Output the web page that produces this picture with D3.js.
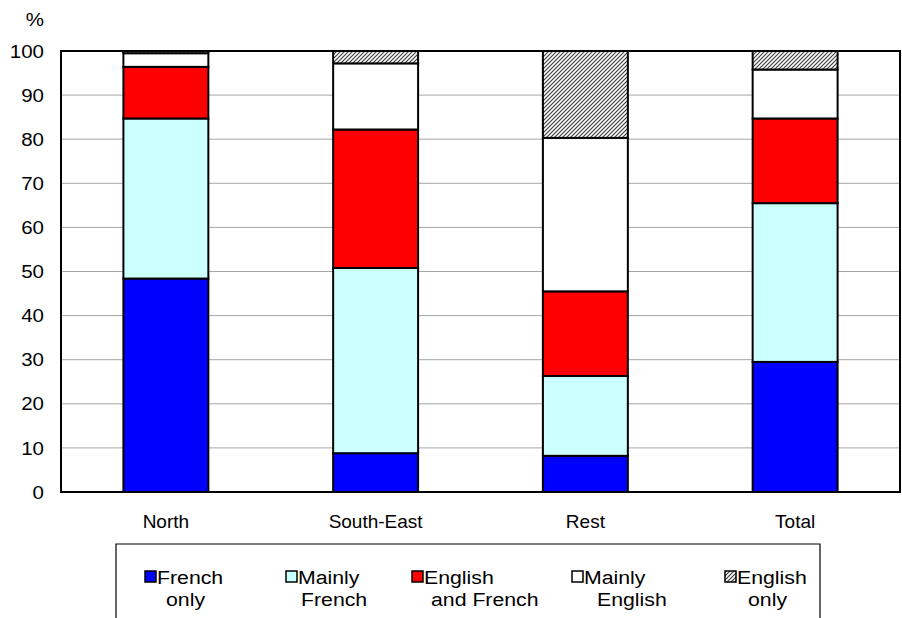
<!DOCTYPE html>
<html>
<head>
<meta charset="utf-8">
<script src="https://cdn.jsdelivr.net/npm/d3@7"></script>
<style>
  html, body { margin: 0; padding: 0; background: #fff; }
  svg { display: block; font-family: Arial, "Liberation Sans", sans-serif; }
</style>
</head>
<body>
<svg id="chart" width="902" height="618"></svg>
<script>
// ---- data ----
const categories = ["North", "South-East", "Rest", "Total"];
const seriesKeys = ["French only", "Mainly French", "English and French", "Mainly English", "English only"];
const frenchOnly        = [48.4,  8.8,  8.2, 29.5];
const mainlyFrench      = [36.3, 42.0, 18.1, 36.0];
const englishAndFrench  = [11.7, 31.4, 19.2, 19.2];
const mainlyEnglish     = [ 3.1, 15.0, 34.8, 11.1];
const englishOnly       = [ 0.5,  2.8, 19.7,  4.2];
const yTicks = [0, 10, 20, 30, 40, 50, 60, 70, 80, 90, 100];
const legendLines = [["French", "only"], ["Mainly", "French"], ["English", "and French"], ["Mainly", "English"], ["English", "only"]];

// ---- layout / style ----
const W = 902, H = 618;
const plot = { left: 61, right: 900, top: 51, bottom: 492 };
const fills = ["#0000ff", "#ccffff", "#ff0000", "#ffffff", "url(#hatch)"];
const legendBox = { x: 116, y: 544, w: 704 };
const legendItemX = [145, 286, 412, 572, 725];
const legendLine2Off = [9, 3, 7, 13, 11];

const svg = d3.select("#chart");

const defs = svg.append("defs");
const pat = defs.append("pattern")
  .attr("id", "hatch").attr("patternUnits", "userSpaceOnUse")
  .attr("width", 4).attr("height", 4);
pat.append("rect").attr("width", 4).attr("height", 4).attr("fill", "#fff");
pat.append("path").attr("d", "M-1,1 l2,-2 M0,4 l4,-4 M3,5 l2,-2")
  .attr("stroke", "#404040").attr("stroke-width", 1.2);

const table = categories.map((c, i) => ({
  cat: c,
  "French only": frenchOnly[i],
  "Mainly French": mainlyFrench[i],
  "English and French": englishAndFrench[i],
  "Mainly English": mainlyEnglish[i],
  "English only": englishOnly[i]
}));
const stacked = d3.stack().keys(seriesKeys)(table);

const x = d3.scaleBand().domain(categories).range([plot.left, plot.right])
  .paddingInner(0.595).paddingOuter(0.2975);
const y = d3.scaleLinear().domain([0, 100]).range([plot.bottom, plot.top]);

// gridlines
svg.append("g").selectAll("line").data(yTicks.filter(t => t > 0 && t < 100)).join("line")
  .attr("x1", plot.left).attr("x2", plot.right)
  .attr("y1", d => y(d)).attr("y2", d => y(d))
  .attr("stroke", "#a6a6a6").attr("stroke-width", 1);

// bars
svg.append("g").selectAll("g").data(stacked).join("g")
  .attr("fill", (d, i) => fills[i])
  .selectAll("rect").data(d => d).join("rect")
  .attr("x", d => x(d.data.cat))
  .attr("width", x.bandwidth())
  .attr("y", d => y(d[1]))
  .attr("height", d => y(d[0]) - y(d[1]))
  .attr("stroke", "#000").attr("stroke-width", 2);

// frame
svg.append("rect")
  .attr("x", plot.left).attr("y", plot.top)
  .attr("width", plot.right - plot.left).attr("height", plot.bottom - plot.top)
  .attr("fill", "none").attr("stroke", "#000").attr("stroke-width", 2);

// y axis labels (slightly widened glyphs as in the reference)
svg.append("g").selectAll("text").data(yTicks).join("text")
  .attr("transform", d => `translate(44,${y(d)}) scale(1.08,1)`)
  .attr("dy", "0.35em").attr("text-anchor", "end")
  .attr("font-size", 19).text(d => d);
svg.append("text").attr("transform", "translate(44,26) scale(1.08,1)")
  .attr("text-anchor", "end").attr("font-size", 19).text("%");

// x axis labels
const xAxis = d3.axisBottom(x).tickSize(0).tickPadding(23);
const gx = svg.append("g").attr("transform", `translate(0,${plot.bottom})`).call(xAxis);
gx.select(".domain").remove();
gx.selectAll("text").attr("font-size", 19).attr("fill", "#000")
  .attr("font-family", "Arial, 'Liberation Sans', sans-serif");

// legend
svg.append("path")
  .attr("d", `M${legendBox.x},${H + 2} V${legendBox.y} H${legendBox.x + legendBox.w} V${H + 2}`)
  .attr("fill", "none").attr("stroke", "#000").attr("stroke-width", 1.2);
const lg = svg.append("g").selectAll("g").data(seriesKeys).join("g")
  .attr("transform", (d, i) => `translate(${legendItemX[i]},0)`);
lg.append("rect").attr("x", 0).attr("y", 571).attr("width", 11).attr("height", 11)
  .attr("fill", (d, i) => fills[i]).attr("stroke", "#000").attr("stroke-width", 1.5);
lg.append("text").attr("transform", "translate(12,584) scale(1.12,1)")
  .attr("font-size", 19).text((d, i) => legendLines[i][0]);
lg.append("text").attr("transform", (d, i) => `translate(${12 + legendLine2Off[i]},606) scale(1.12,1)`)
  .attr("font-size", 19).text((d, i) => legendLines[i][1]);
</script>
</body>
</html>
